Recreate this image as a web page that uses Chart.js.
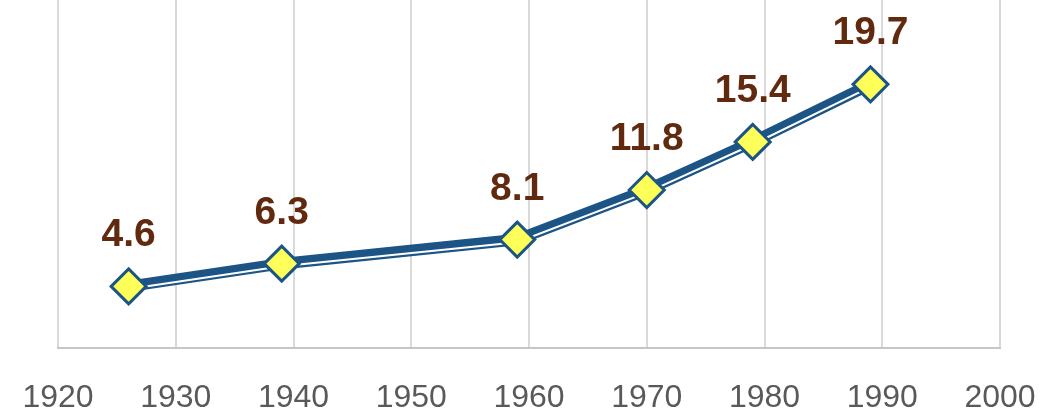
<!DOCTYPE html>
<html>
<head>
<meta charset="utf-8">
<script src="https://cdn.jsdelivr.net/npm/chart.js@4"></script>
<style>
  html, body { margin: 0; padding: 0; background: #ffffff; }
  #wrap { width: 1051px; height: 418px; }
</style>
</head>
<body>
<div id="wrap"><canvas id="yearChart"></canvas></div>
<script>
// Values
const years = [1926, 1939, 1959, 1970, 1979, 1989];
const values = [4.6, 6.3, 8.1, 11.8, 15.4, 19.7];
const tickYears = [1920, 1930, 1940, 1950, 1960, 1970, 1980, 1990, 2000];

const lineBlue = "#1b5485";
const labelBrown = "#612a0f";

const points = years.map((y, i) => ({ x: y, y: values[i] }));

// Shift the thin white stripe down a little so the line looks like a double line
const stripePlugin = {
  id: "stripe",
  beforeDatasetDraw(chart, args) {
    if (args.index === 1) {
      chart.ctx.save();
      chart.ctx.translate(0, 2.6);
    }
  },
  afterDatasetDraw(chart, args) {
    if (args.index === 1) chart.ctx.restore();
  }
};

// Value labels above each marker
const valueLabels = {
  id: "valueLabels",
  afterDatasetsDraw(chart) {
    const ctx = chart.ctx;
    const meta = chart.getDatasetMeta(0);
    ctx.save();
    ctx.fillStyle = labelBrown;
    ctx.font = "bold 39px 'Liberation Sans', Arial, sans-serif";
    ctx.textAlign = "center";
    ctx.textBaseline = "alphabetic";
    meta.data.forEach((pt, i) => {
      ctx.fillText(values[i].toFixed(1), pt.x, pt.y - 40);
    });
    ctx.restore();
  }
};

new Chart(document.getElementById("yearChart"), {
  type: "line",
  data: {
    datasets: [
      {
        // markers
        data: points,
        showLine: false,
        pointStyle: "rectRot",
        pointRadius: 17.5,
        pointBorderWidth: 3,
        pointBackgroundColor: "#ffff5a",
        pointBorderColor: lineBlue,
        clip: false
      },
      {
        // white stripe
        data: points,
        borderColor: "#ffffff",
        borderWidth: 2,
        pointRadius: 0,
        tension: 0,
        clip: false
      },
      {
        // thick blue line
        data: points,
        borderColor: lineBlue,
        borderWidth: 11.5,
        pointRadius: 0,
        tension: 0,
        clip: false
      }
    ]
  },
  options: {
    responsive: true,
    maintainAspectRatio: false,
    animation: false,
    events: [],
    layout: {
      autoPadding: false,
      padding: { left: 58, right: 51, top: 0, bottom: 0 }
    },
    plugins: {
      legend: { display: false },
      tooltip: { enabled: false }
    },
    scales: {
      x: {
        type: "linear",
        min: 1920,
        max: 2000,
        afterBuildTicks: (scale) => {
          scale.ticks = tickYears.map(v => ({ value: v }));
        },
        afterFit: (scale) => {
          // keep the plot area where the reference has it
          scale.height = 70;
          scale.paddingLeft = 0;
          scale.paddingRight = 0;
        },
        ticks: {
          color: "#595959",
          padding: 31,
          font: { family: "'Liberation Sans', Arial, sans-serif", size: 32 },
          callback: (v) => String(v)
        },
        grid: {
          color: "#d9d9d9",
          lineWidth: 2,
          drawTicks: false
        },
        border: {
          display: true,
          color: "#c6c6c6",
          width: 2
        }
      },
      y: {
        display: false,
        min: 0,
        max: 26
      }
    }
  },
  plugins: [stripePlugin, valueLabels]
});
</script>
</body>
</html>
